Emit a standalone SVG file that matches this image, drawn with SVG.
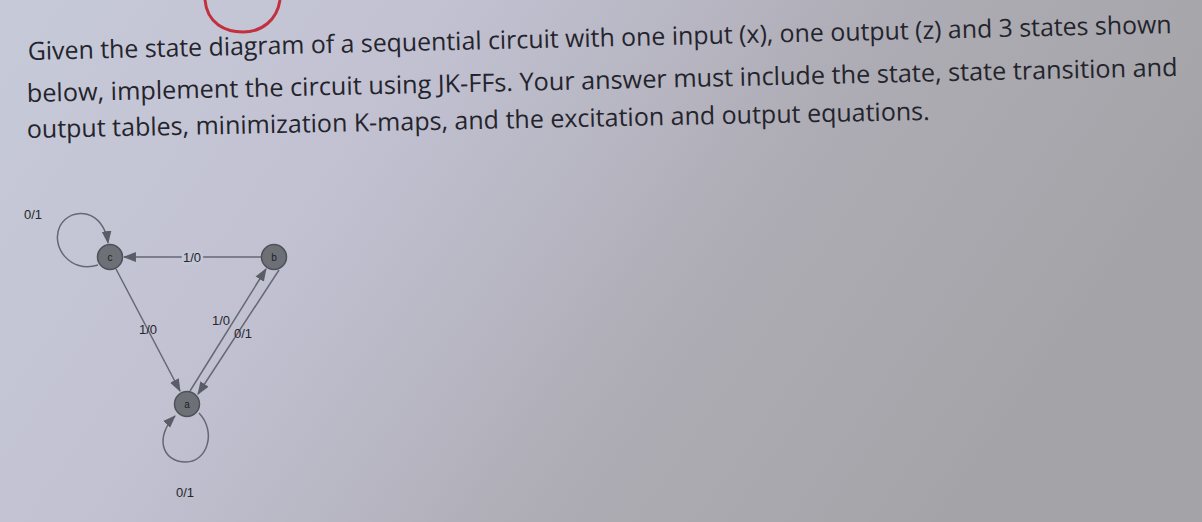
<svg xmlns="http://www.w3.org/2000/svg" width="1202" height="522" viewBox="0 0 1202 522">
<defs>
<linearGradient id="bg" x1="0" y1="0" x2="1" y2="0.3">
<stop offset="0" stop-color="#c6cad8"/>
<stop offset="0.35" stop-color="#c2c1d2"/>
<stop offset="0.7" stop-color="#adacb4"/>
<stop offset="1" stop-color="#a4a4a8"/>
</linearGradient>
<marker id="arr" viewBox="0 0 12 10" refX="11" refY="5" markerWidth="13" markerHeight="11" markerUnits="userSpaceOnUse" orient="auto">
<path d="M0,0.5 L12,5 L0,9.5 Z" fill="#595d66"/>
</marker>
<style>
.q{font-family:"Open Sans","Liberation Sans",sans-serif;font-size:25px;fill:#24242c}
.e{fill:none;stroke:#646872;stroke-width:1.5}
.n{fill:#6e7078;stroke:#4e5158;stroke-width:1.5}
.nl{font-family:"Liberation Sans",Arial,sans-serif;font-size:10px;fill:#1e1e22;text-anchor:middle}
.el{font-family:"Liberation Sans",Arial,sans-serif;font-size:13px;fill:#26262c;text-anchor:middle}
</style>
</defs>
<rect width="1202" height="522" fill="url(#bg)"/>
<path d="M205,0 C207,24 226,32 243,32 C262,32 277,20 280,0" fill="none" stroke="#c2303e" stroke-width="3"/>
<text class="q" x="28" y="60" textLength="1144" lengthAdjust="spacingAndGlyphs" transform="rotate(-1.35 28 60)">Given the state diagram of a sequential circuit with one input (x), one output (z) and 3 states shown</text>
<text class="q" x="27" y="102" textLength="1151" lengthAdjust="spacingAndGlyphs" transform="rotate(-1.3 27 102)">below, implement the circuit using JK-FFs. Your answer must include the state, state transition and</text>
<text class="q" x="27" y="138" textLength="903" lengthAdjust="spacingAndGlyphs" transform="rotate(-1.15 27 138)">output tables, minimization K-maps, and the excitation and output equations.</text>
<g id="connectors">
<path class="e" d="M261,257 L124,257" marker-end="url(#arr)"/>
<path class="e" d="M116,269 L180,391" marker-end="url(#arr)"/>
<path class="e" d="M190,391 L266,269" marker-end="url(#arr)"/>
<path class="e" d="M279,270 L198,394" marker-end="url(#arr)"/>
<path class="e" d="M98,265 C70,274 50,246 60,226 C72,205 104,210 108,243" marker-end="url(#arr)"/>
<path class="e" d="M199,413 C217,432 207,462 186,462 C161,462 155,436 175,416" marker-end="url(#arr)"/>
<text class="el" x="192" y="262" style="paint-order:stroke;stroke:#c4c8d6;stroke-width:5">1/0</text>
<text class="el" x="148" y="334">1/0</text>
<text class="el" x="221" y="325">1/0</text>
<text class="el" x="243" y="338">0/1</text>
<text class="el" x="33" y="219">0/1</text>
<text class="el" x="185" y="497">0/1</text>
</g>
<g id="node-c"><circle class="n" cx="110" cy="257" r="12.5"/><text class="nl" x="110" y="261">c</text></g>
<g id="node-b"><circle class="n" cx="274" cy="257" r="12.5"/><text class="nl" x="274" y="261">b</text></g>
<g id="node-a"><circle class="n" cx="187" cy="404" r="12.5"/><text class="nl" x="187" y="408">a</text></g>
</svg>
